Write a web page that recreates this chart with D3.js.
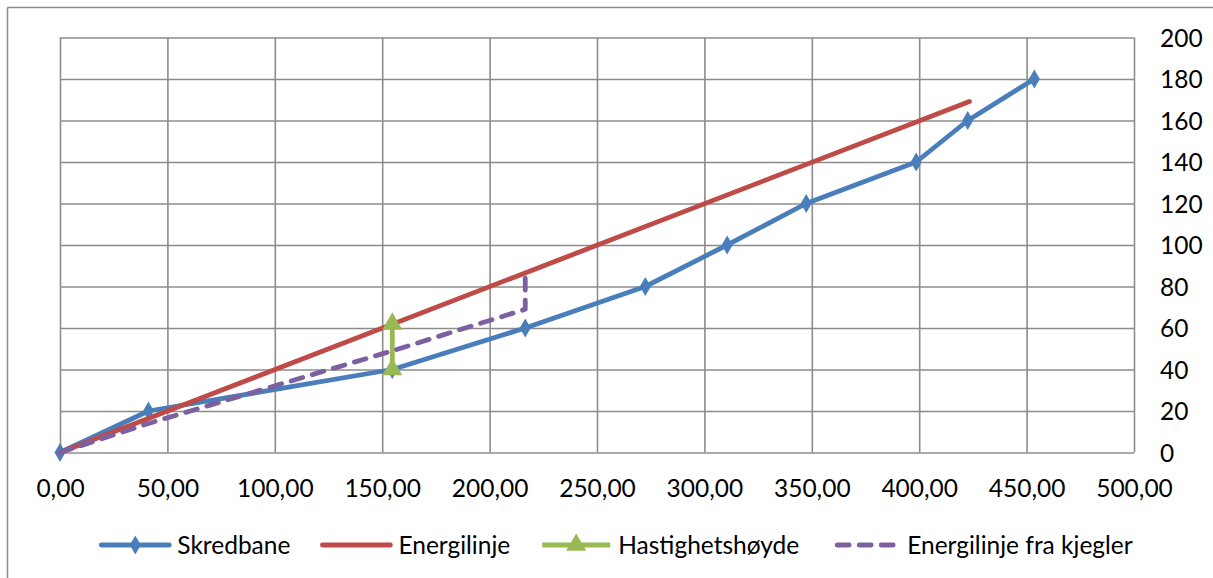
<!DOCTYPE html>
<html>
<head>
<meta charset="utf-8">
<script src="https://cdn.jsdelivr.net/npm/d3@7"></script>
<style>
  html, body { margin: 0; padding: 0; background: #fff; }
  svg text { font-family: Lato, "Open Sans", sans-serif; fill: #000; }
</style>
</head>
<body>
<svg id="chart" width="1213" height="578"></svg>
<script>
// Avalanche profile: terrain path, energy line, velocity height and cone energy line
const skredbaneX = [0, 41.2, 154.7, 216.6, 272.5, 310.6, 347.4, 398.6, 422.6, 453.6];
const skredbaneY = [0, 20, 40, 60, 80, 100, 120, 140, 160, 180];

const energilinjeX = [0, 423.4];
const energilinjeY = [0, 169.2];

const hastighetX = [154.7, 154.7];
const hastighetY = [40, 62];

const kjeglerX = [0, 41.2, 154.7, 216.6, 216.6];
const kjeglerY = [0, 14, 49, 69, 86.6];

const xTicks = [0, 50, 100, 150, 200, 250, 300, 350, 400, 450, 500];
const yTicks = [0, 20, 40, 60, 80, 100, 120, 140, 160, 180, 200];

const seriesNames = ["Skredbane", "Energilinje", "Hastighetshøyde", "Energilinje fra kjegler"];

const colors = {
  blue: "#4a7ebb",
  red: "#be4b48",
  green: "#98b954",
  purple: "#7d60a0",
  grid: "#8c8c8c"
};

const svg = d3.select("#chart");
const W = 1213, H = 578;
const fontSize = "24.5px";
const lw = 4.8;

const x = d3.scaleLinear().domain([0, 500]).range([60, 1134]);
const y = d3.scaleLinear().domain([0, 200]).range([452.5, 37.5]);

const nb = d3.formatLocale({ decimal: ",", thousands: " ", grouping: [3], currency: ["", " kr"] });
const fmtX = nb.format(".2f");

// outer chart frame (left and top edges)
svg.append("line").attr("x1", 7.5).attr("x2", 7.5).attr("y1", 7.5).attr("y2", H)
  .attr("stroke", "#8c8c8c").attr("stroke-width", 1.5);
svg.append("line").attr("x1", 7.5).attr("x2", W).attr("y1", 7.5).attr("y2", 7.5)
  .attr("stroke", "#8c8c8c").attr("stroke-width", 1.5);

// gridlines
const gx = svg.append("g").attr("transform", `translate(0,${y(0)})`)
  .call(d3.axisBottom(x).tickValues(xTicks).tickSize(-(y(0) - y(200))).tickFormat(""));
gx.select(".domain").remove();
gx.selectAll("line").attr("stroke", colors.grid).attr("stroke-width", 1.6);

const gy = svg.append("g").attr("transform", `translate(${x(0)},0)`)
  .call(d3.axisLeft(y).tickValues(yTicks).tickSize(-(x(500) - x(0))).tickFormat(""));
gy.select(".domain").remove();
gy.selectAll("line").attr("stroke", colors.grid).attr("stroke-width", 1.6);

// x tick labels
const ax = svg.append("g").attr("transform", `translate(0,${y(0)})`)
  .call(d3.axisBottom(x).tickValues(xTicks).tickSize(0).tickPadding(0).tickFormat(fmtX));
ax.select(".domain").remove();
ax.selectAll("text").attr("y", 44).attr("dy", null)
  .style("font-size", fontSize);

// y tick labels on the right
const ay = svg.append("g").attr("transform", `translate(${x(500)},0)`)
  .call(d3.axisRight(y).tickValues(yTicks).tickSize(0).tickPadding(26));
ay.select(".domain").remove();
ay.selectAll("text").attr("dy", "0.36em").style("font-size", fontSize);

const line = d3.line().x(d => x(d[0])).y(d => y(d[1]));
const zip = (xs, ys) => xs.map((v, i) => [v, ys[i]]);

const plot = svg.append("g");

// Skredbane
const sk = zip(skredbaneX, skredbaneY);
plot.append("path").datum(sk).attr("d", line)
  .attr("fill", "none").attr("stroke", colors.blue).attr("stroke-width", lw)
  .attr("stroke-linejoin", "round").attr("stroke-linecap", "round");
const diamond = d3.symbol().type(d3.symbolDiamond).size(105);
plot.selectAll(".dia").data(sk).enter().append("path")
  .attr("transform", d => `translate(${x(d[0])},${y(d[1])})`)
  .attr("d", diamond).attr("fill", colors.blue);

// Energilinje
plot.append("path").datum(zip(energilinjeX, energilinjeY)).attr("d", line)
  .attr("fill", "none").attr("stroke", colors.red).attr("stroke-width", lw)
  .attr("stroke-linecap", "round");

// Hastighetshøyde
const hs = zip(hastighetX, hastighetY);
plot.append("path").datum(hs).attr("d", line)
  .attr("fill", "none").attr("stroke", colors.green).attr("stroke-width", lw);
const tri = d3.symbol().type(d3.symbolTriangle).size(175);
plot.selectAll(".tri").data(hs).enter().append("path")
  .attr("transform", d => `translate(${x(d[0])},${y(d[1])})`)
  .attr("d", tri).attr("fill", colors.green);

// Energilinje fra kjegler
plot.append("path").datum(zip(kjeglerX, kjeglerY)).attr("d", line)
  .attr("fill", "none").attr("stroke", colors.purple).attr("stroke-width", lw)
  .attr("stroke-dasharray", "12,10").attr("stroke-linecap", "round")
  .attr("stroke-linejoin", "round");

// legend
const legendY = 545;
const lineLen = 68, textGap = 8, itemGap = 32;
const legend = svg.append("g");
const items = seriesNames.map((name, i) => {
  const g = legend.append("g");
  const ln = g.append("line").attr("x1", 0).attr("x2", lineLen)
    .attr("y1", legendY).attr("y2", legendY).attr("stroke-width", lw)
    .attr("stroke-linecap", "round");
  const t = g.append("text").attr("x", lineLen + textGap).attr("y", legendY)
    .attr("dy", "0.35em").style("font-size", fontSize).text(name);
  if (i === 0) {
    ln.attr("stroke", colors.blue);
    g.append("path").attr("transform", `translate(${lineLen / 2},${legendY})`)
      .attr("d", diamond).attr("fill", colors.blue);
  } else if (i === 1) {
    ln.attr("stroke", colors.red);
  } else if (i === 2) {
    ln.attr("stroke", colors.green).attr("stroke-linecap", "butt");
    g.append("path").attr("transform", `translate(${lineLen / 2},${legendY})`)
      .attr("d", tri).attr("fill", colors.green);
  } else {
    ln.attr("stroke", colors.purple).attr("stroke-dasharray", "12,10")
      .attr("x1", 6).attr("x2", lineLen - 6);
  }
  return { g, w: lineLen + textGap + t.node().getComputedTextLength() };
});
const total = d3.sum(items, d => d.w) + itemGap * (items.length - 1);
let cx = 617 - total / 2;
items.forEach(it => {
  it.g.attr("transform", `translate(${cx},0)`);
  cx += it.w + itemGap;
});
</script>
</body>
</html>
